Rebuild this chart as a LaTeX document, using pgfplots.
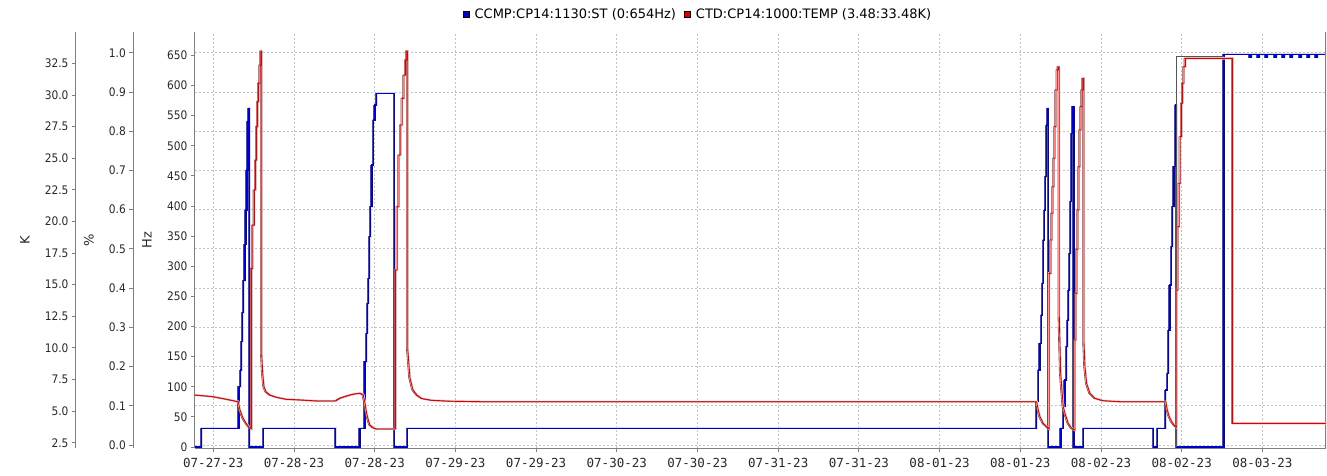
\documentclass[border=0pt]{standalone}
\usepackage{pgfplots}
\usepackage{pgfplotstable}
\pgfplotsset{compat=1.18}
\usepackage{fontspec}
\setmainfont{DejaVu Sans}
\newfontfamily\condfont{DejaVu Sans Condensed}
\newfontfamily\monofont{DejaVu Sans Mono}

\definecolor{ser1}{RGB}{0,0,205}
\definecolor{ser2}{RGB}{220,0,0}
\definecolor{axisgray}{RGB}{128,128,128}
\definecolor{gridgray}{RGB}{195,195,195}
\definecolor{txt}{RGB}{40,40,40}
\definecolor{shade}{RGB}{85,85,85}

% x = hours since 07-27-23 00:00, hz = compressor speed
\pgfplotstableread{
h hz
9.28 0
10.27 31
15.82 100.1
16.07 127.8
16.22 174.7
16.37 222.9
16.52 276.0
16.71 336.4
16.86 393.3
17.01 459.7
17.16 539.8
17.31 562.1
17.41 0
19.43 31
30.20 0
33.81 31
34.56 141.6
34.81 188.7
34.96 238.5
35.11 280.0
35.26 349.0
35.41 398.8
35.60 468.0
35.79 542.6
36.04 567.5
36.30 587.0
38.91 0
40.85 31
134.44 75.2
134.68 127.8
134.93 172.1
135.12 219.1
135.27 271.7
135.42 343.5
135.57 393.3
135.72 448.6
135.93 534.3
136.07 562.1
136.16 0
138.05 31
138.39 66.9
138.65 111.2
138.90 166.4
139.05 210.8
139.20 260.5
139.35 321.4
139.50 407.1
139.64 520.6
139.79 564.7
139.98 0
141.37 31
151.78 0
152.37 31
153.66 94.6
153.86 122.3
154.07 194.2
154.26 268.8
154.45 332.4
154.66 398.8
154.86 465.2
155.05 567.5
155.26 0
162.29 652
166.16 647
166.38 652
167.35 647
167.57 652
168.54 647
168.76 652
169.88 647
170.10 652
171.07 647
171.29 652
172.26 647
172.48 652
173.60 647
173.82 652
174.79 647
175.01 652
175.98 647
176.20 652
177.46 652
}\bluedata

% k = temperature in K (steps written out as pairs of points)
\pgfplotstableread{
h k
9.28 6.27
11.96 6.14
13.74 5.96
15.72 5.74
15.97 5.09
16.42 4.45
16.86 4.06
17.31 3.74
17.71 3.60
17.71 16.29
17.86 16.29
17.86 19.71
18.10 19.71
18.10 22.48
18.30 22.48
18.30 24.85
18.45 24.85
18.45 27.49
18.60 27.49
18.60 29.46
18.75 29.46
18.75 30.92
18.94 30.92
18.94 32.36
19.09 32.36
19.09 33.47
19.20 33.47
19.20 9.57
19.35 7.99
19.54 6.93
19.84 6.53
20.43 6.27
21.43 6.09
22.91 5.93
24.89 5.88
27.38 5.80
30.20 5.80
30.84 6.01
31.84 6.19
32.82 6.33
33.81 6.41
34.30 6.30
34.56 5.62
34.81 4.82
35.05 4.29
35.30 3.90
35.79 3.68
36.30 3.58
39.12 3.58
39.12 16.16
39.36 16.16
39.36 21.16
39.61 21.16
39.61 25.25
39.87 25.25
39.87 27.62
40.10 27.62
40.10 29.73
40.36 29.73
40.36 31.57
40.61 31.57
40.61 32.76
40.76 32.76
40.76 33.47
40.91 33.47
40.91 9.96
41.25 7.62
41.70 6.67
42.29 6.27
43.03 5.99
44.52 5.85
47.20 5.78
52.00 5.74
134.44 5.74
134.68 5.09
134.93 4.56
135.42 4.03
135.93 3.77
136.31 3.58
136.31 15.89
136.56 15.89
136.56 18.53
136.71 18.53
136.71 20.64
136.86 20.64
136.86 22.74
137.01 22.74
137.01 24.99
137.16 24.99
137.16 27.49
137.31 27.49
137.31 30.39
137.50 30.39
137.50 31.97
137.65 31.97
137.65 32.23
137.80 32.23
137.80 12.46
138.01 8.01
138.16 6.93
138.39 5.35
138.65 4.82
139.14 4.03
139.64 3.64
140.13 3.50
140.13 10.62
140.28 10.62
140.28 14.31
140.43 14.31
140.43 17.80
140.58 17.80
140.58 20.90
140.73 20.90
140.73 24.32
140.88 24.32
140.88 27.23
141.03 27.23
141.03 29.07
141.18 29.07
141.18 30.39
141.33 30.39
141.33 31.31
141.47 31.31
141.47 10.49
141.62 8.51
141.87 7.20
142.36 6.41
143.11 6.01
144.34 5.82
146.83 5.74
153.66 5.74
153.86 5.09
154.16 4.56
154.52 4.16
154.86 3.90
155.26 3.72
155.26 14.57
155.45 14.57
155.45 19.58
155.64 19.58
155.64 23.01
155.79 23.01
155.79 26.70
156.00 26.70
156.00 29.34
156.15 29.34
156.15 30.92
156.34 30.92
156.34 32.23
156.54 32.23
156.54 32.89
163.58 32.89
163.58 4.03
177.46 4.03
}\reddata

\pgfplotstableread{
h hz
155.26 0
155.26 647.7
162.29 647.7
}\graydata

\begin{document}
\begin{tikzpicture}
\useasboundingbox (-195pt,-27pt) rectangle (1132pt,448pt);

% ---------- main Hz axis (grid, x axis, blue series, legend)
\begin{axis}[
  scale only axis, width=1131pt, height=416pt,
  at={(0pt,0pt)}, anchor=south west,
  xmin=9.28, xmax=177.46, ymin=-1.66, ymax=688.7,
  axis lines*=left, axis line style={axisgray, line width=1pt, -},
  tick align=outside, major tick length=4pt,
  tick style={axisgray, line width=0.8pt},
  xtick={12,24,36,48,60,72,84,96,108,120,132,144,156,168},
  xticklabels={07-27-23,07-28-23,07-28-23,07-29-23,07-29-23,07-30-23,07-30-23,07-31-23,07-31-23,08-01-23,08-01-23,08-02-23,08-02-23,08-03-23},
  xticklabel style={font=\monofont\fontsize{12.5}{14}\selectfont, text=txt, yshift=-3pt},
  ytick={0,50,...,650},
  yticklabel style={font=\condfont\fontsize{11.8}{13}\selectfont, text=txt},
  /pgf/number format/assume math mode=true,
  xmajorgrids,
  grid style={gridgray, dash pattern=on 2pt off 2pt, line width=0.8pt},
  extra y ticks={3.32,68.42,133.52,198.62,263.72,328.82,393.92,459.02,524.12,589.22,654.32},
  extra y tick labels={},
  extra y tick style={grid=major, major tick length=0pt},
  ylabel={Hz},
  every axis y label/.style={at={(axis description cs:0,0.5)}, anchor=center, xshift=-48pt, rotate=90, font=\fontsize{13}{15}\selectfont, text=txt},
  legend columns=2,
  legend style={at={(axis description cs:0.4447,1.0433)}, anchor=center, draw=none, fill=none,
    font=\fontsize{13}{15}\selectfont, text=black,
    /tikz/every even column/.append style={column sep=6pt}},
  legend image code/.code={\fill[#1] (0pt,-3pt) rectangle (6pt,3pt); \path (9.5pt,0pt);},
]
\addlegendimage{fill=ser1}
\addlegendentry{CCMP:CP14:1130:ST (0:654Hz)}
\addlegendimage{fill=ser2}
\addlegendentry{CTD:CP14:1000:TEMP (3.48:33.48K)}

\addplot[const plot, mark=none, draw=ser1!15, line width=2.2pt, forget plot] table[x=h,y=hz]{\bluedata};
\addplot[const plot, mark=none, draw=shade, line width=0.6pt, forget plot] table[x expr=\thisrow{h}-0.2,y=hz]{\bluedata};
\addplot[const plot, mark=none, draw=ser1, line width=1.1pt, forget plot] table[x=h,y=hz]{\bluedata};
\addplot[mark=none, draw=shade, line width=0.8pt, forget plot] table[x=h,y=hz]{\graydata};
\draw[axisgray, line width=2pt] (rel axis cs:1,0) -- (rel axis cs:1,1);
\end{axis}

% ---------- red series on the K scale
\begin{axis}[
  scale only axis, width=1131pt, height=416pt,
  at={(0pt,0pt)}, anchor=south west,
  xmin=9.28, xmax=177.46, ymin=2.081, ymax=34.975,
  hide axis,
]
\addplot[sharp plot, mark=none, draw=ser2!20, line width=2.4pt] table[x=h,y=k]{\reddata};
\addplot[sharp plot, mark=none, draw=shade, line width=0.6pt] table[x expr=\thisrow{h}-0.2,y=k]{\reddata};
\addplot[sharp plot, mark=none, draw=ser2, line width=0.9pt] table[x=h,y=k]{\reddata};
\end{axis}

% ---------- % scale
\begin{axis}[
  scale only axis, width=1pt, height=416pt,
  at={(-61.7pt,0pt)}, anchor=south west,
  xmin=0, xmax=1, ymin=-0.0076, ymax=1.0528,
  hide x axis, axis y line*=left, axis line style={axisgray, line width=1pt, -},
  tick align=outside, major tick length=4pt,
  tick style={axisgray, line width=0.8pt},
  ytick={0,0.1,0.2,0.3,0.4,0.5,0.6,0.7,0.8,0.9,1},
  yticklabel style={font=\condfont\fontsize{11.8}{13}\selectfont, text=txt,
    /pgf/number format/fixed, /pgf/number format/fixed zerofill, /pgf/number format/precision=1},
  /pgf/number format/assume math mode=true,
  ylabel={\%},
  every axis y label/.style={at={(axis description cs:0,0.5)}, anchor=center, xshift=-44.3pt, rotate=90, font=\fontsize{13}{15}\selectfont, text=txt},
]
\end{axis}

% ---------- K scale
\begin{axis}[
  scale only axis, width=1pt, height=416pt,
  at={(-119pt,0pt)}, anchor=south west,
  xmin=0, xmax=1, ymin=2.081, ymax=34.975,
  hide x axis, axis y line*=left, axis line style={axisgray, line width=1pt, -},
  tick align=outside, major tick length=4pt,
  tick style={axisgray, line width=0.8pt},
  ytick={2.5,5,7.5,10,12.5,15,17.5,20,22.5,25,27.5,30,32.5},
  yticklabel style={font=\condfont\fontsize{11.8}{13}\selectfont, text=txt,
    /pgf/number format/fixed, /pgf/number format/fixed zerofill, /pgf/number format/precision=1},
  /pgf/number format/assume math mode=true,
  ylabel={K},
  every axis y label/.style={at={(axis description cs:0,0.5)}, anchor=center, xshift=-51pt, rotate=90, font=\fontsize{13}{15}\selectfont, text=txt},
]
\end{axis}
\end{tikzpicture}
\end{document}
